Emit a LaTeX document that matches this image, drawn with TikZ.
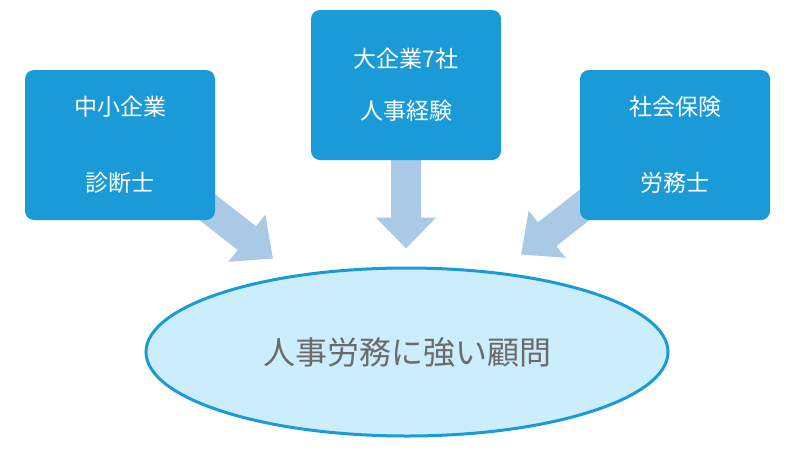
\documentclass[tikz,border=0pt]{standalone}
\usepackage{fontspec}
\setmainfont{Noto Sans CJK JP}
\usetikzlibrary{shapes.geometric}
\definecolor{boxblue}{HTML}{1A9BD7}
\definecolor{arrowblue}{HTML}{A9C9E6}
\definecolor{elfill}{HTML}{CCEEFC}
\definecolor{txtgray}{HTML}{6B6B6B}
\begin{document}
\begin{tikzpicture}[x=1pt,y=-1pt,
 box/.style={rectangle,rounded corners=9pt,fill=boxblue,text=white,minimum width=190pt,minimum height=150pt,align=center,font=\fontsize{23}{46}\selectfont},
 barrow/.style={fill=arrowblue,draw=none}]
\useasboundingbox (0,0) rectangle (800,450);
% arrows: local frame, x along arrow
\def\barrowpath{(0,-15) -- (62,-15) -- (62,-30) -- (95,0) -- (62,30) -- (62,15) -- (0,15) -- cycle}
\fill[barrow,shift={(198,200)},rotate=-38] \barrowpath;
\fill[barrow,shift={(406,160)},rotate=-90,xscale=0.93] \barrowpath;
\fill[barrow,shift={(596,196)},rotate=-142] \barrowpath;
\node[box] (a) at (120,145) {中小企業\\[30pt]診断士};
\node[box] (b) at (406,85) {大企業7社\\[6pt]人事経験};
\node[box] (c) at (675,145) {社会保険\\[30pt]労務士};
\node[ellipse,draw=boxblue,line width=3pt,fill=elfill,minimum width=522pt,minimum height=168pt,text=txtgray,font=\fontsize{32}{38}\selectfont] (e) at (407,352) {人事労務に強い顧問};
\end{tikzpicture}
\end{document}
